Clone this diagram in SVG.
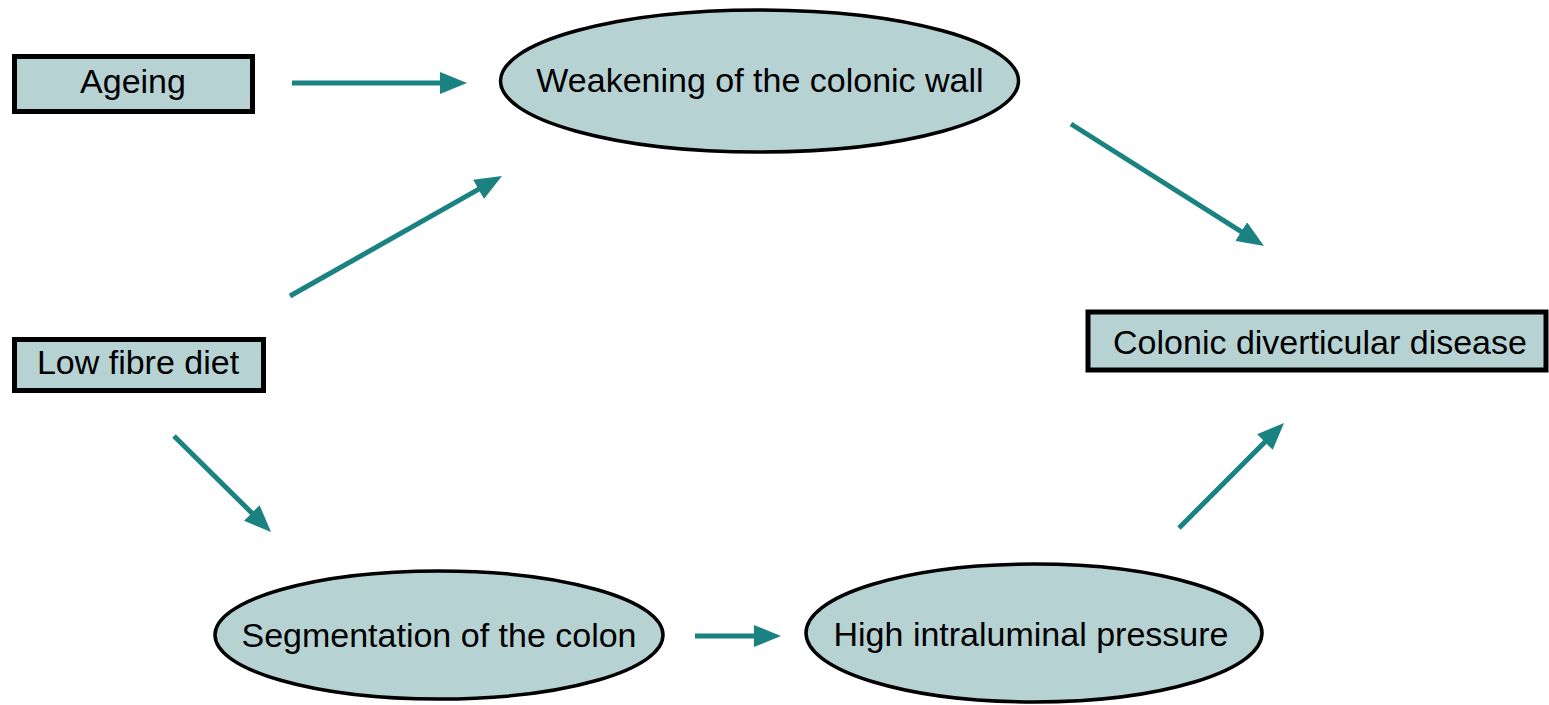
<svg xmlns="http://www.w3.org/2000/svg" width="1549" height="705" viewBox="0 0 1549 705">
<style>
.box{fill:#b7d2d3;stroke:#000;stroke-width:5}
.ell{fill:#b7d2d3;stroke:#000;stroke-width:3.5}
.t{font-family:"Liberation Sans",Arial,sans-serif;font-size:34px;fill:#000;text-anchor:middle}
.c{stroke:#1b8282;stroke-width:5;fill:none;marker-end:url(#ah)}
</style>
<defs>
<marker id="ah" markerUnits="userSpaceOnUse" markerWidth="28" markerHeight="22" refX="7" refY="11" orient="auto" viewBox="0 0 28 22">
<path d="M0,0 L27,11 L0,22 z" fill="#1b8282"/>
</marker>
</defs>
<g id="ageing"><rect class="box" x="14.5" y="56.5" width="238" height="55"/><text class="t" x="133" y="93">Ageing</text></g>
<g id="weakening"><ellipse class="ell" cx="759.5" cy="81" rx="259" ry="71"/><text class="t" x="760" y="92">Weakening of the colonic wall</text></g>
<g id="lowfibre"><rect class="box" x="14.5" y="339.5" width="249" height="51"/><text class="t" x="138" y="374">Low fibre diet</text></g>
<g id="colonic"><rect class="box" x="1088" y="312" width="458" height="58"/><text class="t" x="1320" y="354">Colonic diverticular disease</text></g>
<g id="segmentation"><ellipse class="ell" cx="439" cy="635" rx="224" ry="64"/><text class="t" x="439" y="647">Segmentation of the colon</text></g>
<g id="high"><ellipse class="ell" cx="1034" cy="633" rx="228" ry="69"/><text class="t" x="1031" y="646">High intraluminal pressure</text></g>
<g id="connectors">
<line class="c" x1="292" y1="83" x2="447" y2="83"/>
<line class="c" x1="290" y1="296" x2="484.6" y2="185.9"/>
<line class="c" x1="174" y1="436" x2="256.8" y2="517.9"/>
<line class="c" x1="1071" y1="124" x2="1247.1" y2="235.3"/>
<line class="c" x1="695" y1="636" x2="761" y2="636"/>
<line class="c" x1="1179" y1="528" x2="1269.9" y2="437.1"/>
</g>
</svg>
